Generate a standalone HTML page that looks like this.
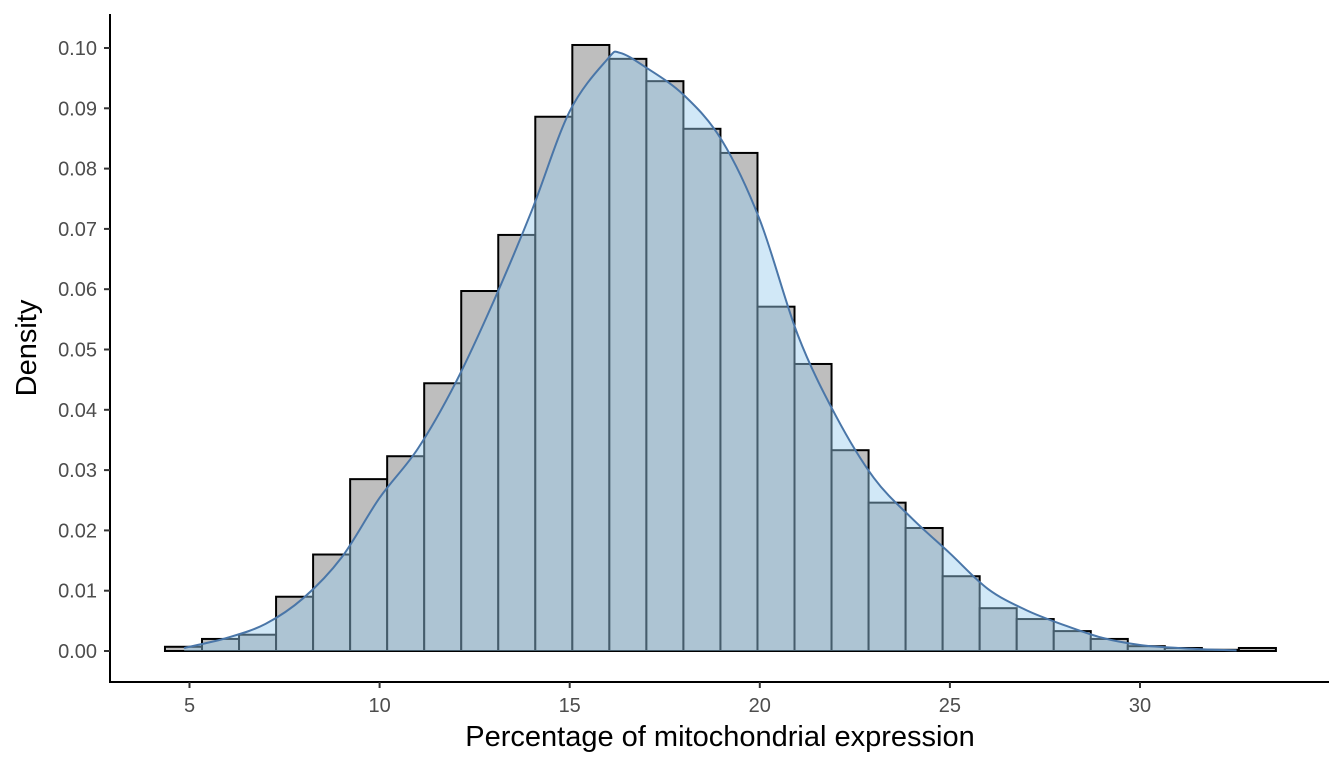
<!DOCTYPE html>
<html><head><meta charset="utf-8">
<style>
html,body{margin:0;padding:0;background:#fff;}
svg{display:block;font-family:"Liberation Sans",sans-serif;}
</style></head>
<body>
<svg id="chart" width="1344" height="768" viewBox="0 0 1344 768" xmlns="http://www.w3.org/2000/svg">
<g id="bars"></g>
<path id="area" fill="rgb(154,203,237)" fill-opacity="0.45" stroke="none"></path>
<path id="curve" fill="none" stroke="#4a76a8" stroke-width="2"></path>
<g id="axes"></g>
<text x="720" y="746" font-size="29" text-anchor="middle" fill="#000">Percentage of mitochondrial expression</text>
<text transform="translate(36,348) rotate(-90)" font-size="29" text-anchor="middle" fill="#000">Density</text>
</svg>
<script>
const binStart = 4.355;
const binWidth = 0.974;
const binHeights = [0.0007,0.002,0.0027,0.009,0.016,0.0285,0.0323,0.0444,0.0597,0.069,0.0886,0.1005,0.0982,0.0945,0.0866,0.0826,0.0571,0.0476,0.0333,0.0246,0.0204,0.0124,0.0071,0.0053,0.0033,0.002,0.0008,0.0005,0.0002,0.0005];
const densX = [4.86,5,6,7,8,9,10,11,12,13,14,15,16,16.32,17,18,19,20,21,22,23,24,25,26,27,28,29,30,31,32,32.54];
const densY = [0.0005,0.0007,0.0022,0.0045,0.0088,0.0155,0.0254,0.0335,0.0445,0.058,0.073,0.0895,0.0982,0.0992,0.0968,0.0922,0.0847,0.0715,0.0524,0.039,0.0287,0.022,0.0162,0.0103,0.0068,0.0043,0.0022,0.001,0.0005,0.0002,0.0001];
const xTicks = [5,10,15,20,25,30];
const yTicks = [0,0.01,0.02,0.03,0.04,0.05,0.06,0.07,0.08,0.09,0.10];
const yTickLabels = ["0.00","0.01","0.02","0.03","0.04","0.05","0.06","0.07","0.08","0.09","0.10"];

const X = v => 189.5 + (v - 5) * 38.02;
const Y = v => 651 - v * 6030;
const NS = "http://www.w3.org/2000/svg";
function mk(tag, attrs, parent){const e=document.createElementNS(NS,tag);for(const k in attrs)e.setAttribute(k,attrs[k]);parent.appendChild(e);return e;}

const bars = document.getElementById('bars');
binHeights.forEach((h,i)=>{
  const x0 = X(binStart + i*binWidth), x1 = X(binStart + (i+1)*binWidth);
  const r = mk('rect',{x:x0,y:Y(h),width:x1-x0,height:Y(0)-Y(h),fill:'#bebebe',stroke:'#000','stroke-width':2},bars);
  
  
});

const pts = densX.map((x,i)=>[X(x),Y(densY[i])]);
let d = 'M'+pts[0][0]+','+pts[0][1];
for(let i=0;i<pts.length-1;i++){
  const p0=pts[Math.max(i-1,0)],p1=pts[i],p2=pts[i+1],p3=pts[Math.min(i+2,pts.length-1)];
  const c1=[p1[0]+(p2[0]-p0[0])/6,p1[1]+(p2[1]-p0[1])/6];
  const c2=[p2[0]-(p3[0]-p1[0])/6,p2[1]-(p3[1]-p1[1])/6];
  d+=' C'+c1[0]+','+c1[1]+' '+c2[0]+','+c2[1]+' '+p2[0]+','+p2[1];
}
document.getElementById('curve').setAttribute('d',d);
document.getElementById('area').setAttribute('d',d+' L'+pts[pts.length-1][0]+','+Y(0)+' L'+pts[0][0]+','+Y(0)+' Z');

const axes = document.getElementById('axes');
const ya = mk('line',{x1:110,y1:14,x2:110,y2:682,stroke:'#000','stroke-width':2},axes);


const xa = mk('line',{x1:109,y1:682,x2:1329,y2:682,stroke:'#000','stroke-width':2},axes);


xTicks.forEach(t=>{
  const l = mk('line',{x1:X(t),y1:682,x2:X(t),y2:688,stroke:'#333','stroke-width':2},axes);
  
  
  const tx = mk('text',{x:X(t),y:712,'font-size':20,'text-anchor':'middle',fill:'#4d4d4d'},axes);
  tx.textContent = t;
  
  
});
yTicks.forEach((t,i)=>{
  const l = mk('line',{x1:104,y1:Y(t),x2:110,y2:Y(t),stroke:'#333','stroke-width':2},axes);
  
  
  const tx = mk('text',{x:97,y:Y(t)+7,'font-size':20,'text-anchor':'end',fill:'#4d4d4d'},axes);
  tx.textContent = yTickLabels[i];
  
  
});
</script>
</body></html>
